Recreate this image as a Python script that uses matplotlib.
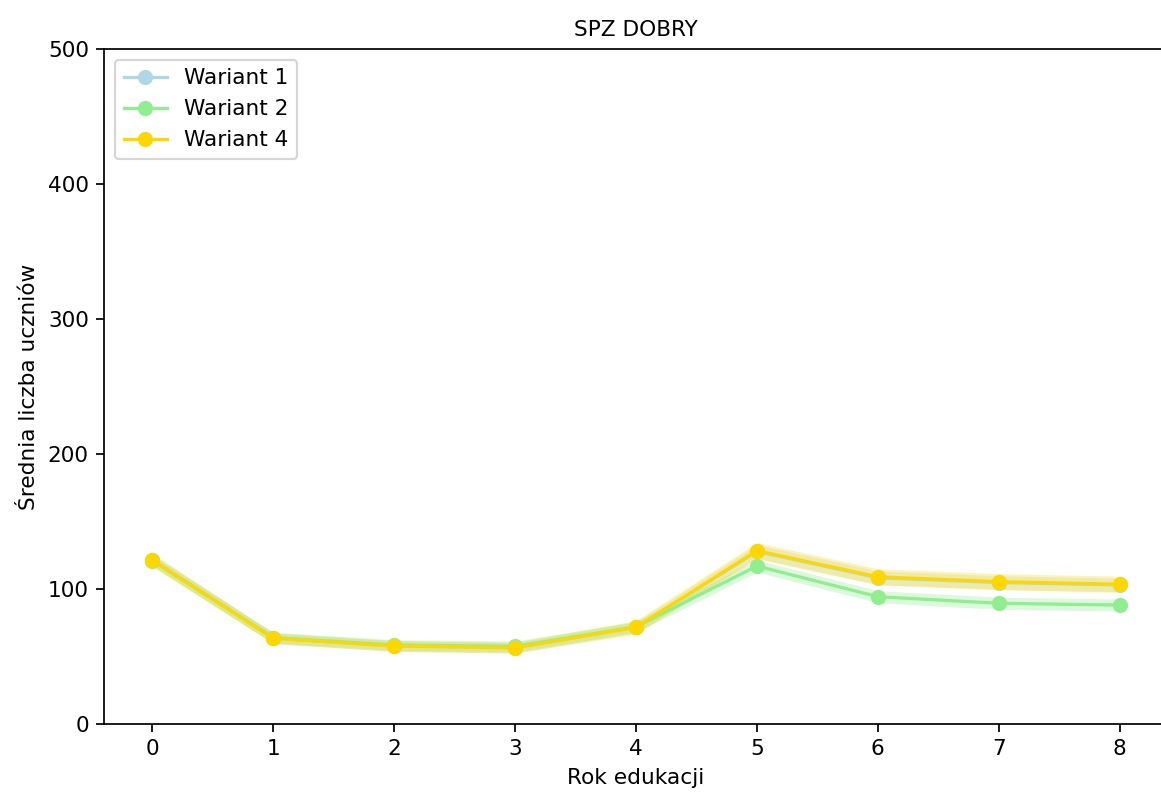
import numpy as np
import matplotlib
matplotlib.use("Agg")
import matplotlib.pyplot as plt

#---------------- DATA ----------------
years = [0, 1, 2, 3, 4, 5, 6, 7, 8]

w1_mean = [121.5, 63.5, 57.8, 56.5, 71.6, 127.8, 108.3, 104.8, 103]
w1_sd = [4, 4, 4, 4, 4, 5, 5, 5, 5]

w2_mean = [121, 64, 58.5, 57.5, 72, 117, 94.3, 89.4, 88.1]
w2_sd = [4, 4, 4, 4, 4, 4.5, 4.5, 4.5, 4.5]

w4_mean = [121.5, 63.5, 57.8, 56.5, 71.6, 128.4, 109, 105.4, 103.5]
w4_sd = [5, 4, 4, 4, 5, 6, 6, 6, 6]

series = [
    ("Wariant 1", w1_mean, w1_sd, "lightblue"),
    ("Wariant 2", w2_mean, w2_sd, "lightgreen"),
    ("Wariant 4", w4_mean, w4_sd, "gold"),
]

#---------------- PLOT ----------------
# right spine sits just past the image edge, like in the original screenshot
DPI = 156
fig = plt.figure(figsize=(1161 / DPI, 792 / DPI), dpi=DPI)
ax = fig.add_axes([104 / 1161, 1 - 724 / 792, 1064 / 1161, 675 / 792])

for name, m, s, c in series:
    m = np.array(m)
    s = np.array(s)
    ax.plot(years, m, marker="o", color=c, label=name)
    ax.fill_between(years, m - s, m + s, color=c, alpha=0.3, linewidth=0)

ax.set_ylim(0, 500)
ax.set_xticks(years)
ax.set_title("SPZ DOBRY", fontsize=10)
ax.set_xlabel("Rok edukacji")
ax.set_ylabel("Średnia liczba uczniów")
ax.legend(loc="upper left")

plt.savefig("out.png", dpi=DPI)
